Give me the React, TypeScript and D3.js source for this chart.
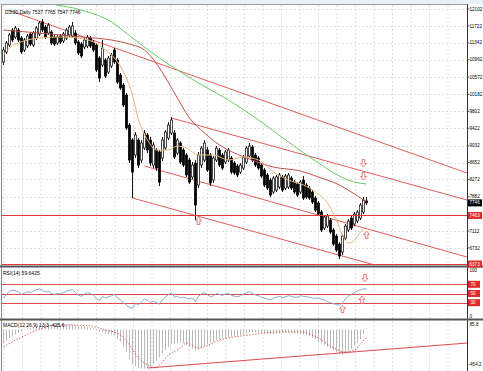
import React from 'react';
import * as d3 from 'd3';

const W = 483;
const H = 371;

const title = 'DJI30,Daily  7537 7765 7547 7746';

const opens = [10911,11136,11293,11630,11473,11630,11450,11181,11270,11540,
11293,11450,11540,11810,11697,11562,11585,11473,11338,11495,
11383,11450,11518,11495,11562,11360,11315,11248,11270,11450,
11360,11293,11001,10844,10956,10686,10821,11181,10956,10619,
10394,10169,9495,9158,8821,9158,8709,8978,9271,9158,
8596,8934,8889,8754,8978,9203,9316,9316,8866,9091,
8934,8821,8709,8327,8641,8147,8596,8709,8934,8821,
8259,8709,8934,8821,8664,8709,8754,8641,8574,8439,
8529,8664,8799,9001,8821,8754,8596,8484,8372,8259,
7990,8035,8102,8327,8080,8102,8304,8214,8170,7990,
8259,8147,8080,7990,7855,7743,7540,7181,7225,7360,
7136,7001,6821,6642,6956,7136,7405,7271,7338,7405,
7540,7790];

const closes = [11181,11338,11518,11405,11675,11405,11136,11405,11495,11315,
11562,11675,11787,11630,11473,11742,11338,11315,11473,11360,
11540,11630,11697,11720,11338,11113,11046,11405,11473,11270,
11181,10731,10551,11225,10596,11001,11068,10911,10461,10327,
9945,9428,8709,8439,9271,8596,9091,9316,8934,8641,
9046,8529,8214,9158,9338,9495,9608,8776,9158,8664,
8596,8372,8214,8596,7698,8821,8978,9091,8484,8192,
8754,8978,8596,8529,8889,8934,8439,8417,8372,8596,
8776,8978,9023,8709,8596,8529,8349,8147,8080,7922,
8304,8327,8372,8035,8349,8372,8080,7990,7922,8214,
7855,7877,7855,7765,7585,7495,7136,7428,7450,7091,
6821,6687,6552,7001,7225,7338,7181,7495,7540,7698,
7810,7746];

const highs = [11248,11383,11562,11675,11720,11675,11495,11450,11540,11585,
11607,11720,11832,11877,11742,11787,11630,11518,11518,11540,
11585,11675,11742,11810,11630,11405,11360,11450,11518,11495,
11405,11338,11046,11405,11001,11046,11113,11225,11001,10664,
10439,10214,9540,9203,9338,9203,9158,9383,9316,9226,
9113,8978,8934,9226,9383,9563,9675,9383,9203,9136,
8978,8866,8754,8664,8709,8889,9023,9158,9001,8866,
8799,9023,8978,8866,8934,8978,8799,8686,8619,8641,
8821,9023,9091,9046,8866,8799,8641,8529,8417,8304,
8349,8372,8417,8372,8394,8417,8349,8259,8214,8259,
8349,8192,8125,8035,7900,7788,7585,7473,7495,7405,
7181,7046,6866,7046,7271,7383,7450,7540,7585,7743,
7877,7880];

const lows = [10844,11091,11248,11360,11428,11360,11091,11136,11225,11270,
11248,11405,11495,11585,11428,11518,11293,11270,11293,11315,
11338,11405,11473,11450,11293,11068,11001,11203,11225,11225,
11136,10686,10461,10799,10551,10641,10776,10866,10417,10281,
9900,9383,8641,7855,8754,8529,8641,8934,8866,8574,
8529,8462,8125,8686,8934,9158,9271,8731,8821,8619,
8551,8327,8170,8282,7360,8080,8529,8664,8439,8125,
8192,8664,8551,8484,8619,8664,8394,8372,8327,8394,
8484,8619,8754,8664,8551,8484,8304,8102,8035,7877,
7945,7990,8057,7990,8035,8057,8035,7945,7877,7945,
7810,7832,7810,7720,7540,7450,7091,7136,7181,7046,
6777,6642,6484,6574,6911,7091,7136,7225,7293,7360,
7495,7700];

// moving averages: [bar index, price]
const maFast: [number, number][] = [[0,11068],[2,11225],[5,11338],[12,11450],[19,11473],[25,11450],[30,11360],[34,11181],[37,11001],[40,10686],[43,10169],[45,9608],[48,9158],[51,8934],[55,8934],[58,9023],[61,8978],[65,8821],[70,8821],[75,8709],[80,8776],[85,8709],[90,8439],[95,8259],[100,8147],[104,7990],[108,7743],[111,7360],[113,7024],[115,6844],[117,6911],[119,7091],[121,7225]];
const maMid: [number, number][] = [[0,11630],[12,11562],[26,11473],[36,11405],[42,11315],[47,11181],[52,10776],[57,10214],[62,9653],[67,9316],[72,9046],[77,8866],[82,8731],[90,8551],[99,8462],[105,8327],[112,8147],[117,7945],[121,7765]];
const maSlow: [number, number][] = [[10,12350],[15,12237],[26,12079],[36,11810],[43,11450],[52,11001],[65,10439],[75,10057],[85,9608],[95,9113],[105,8641],[112,8349],[117,8214],[121,8170]];

// trend lines [idx, price] -> [idx, price]
const trendLines: [number, number, number, number][] = [
  [1.5, 12079, 154.5, 8417],
  [56, 9653, 154.5, 7810],
  [47, 8574, 154.5, 6529],
  [43, 7855, 125, 6327],
];
const levels = [7463, 6373];
const lastPrice = 7746;

const priceTicks = [12102, 11722, 11342, 10962, 10572, 10182, 9802, 9422, 9032, 8652, 8272, 7882, 7112, 6732];

const mainArrows: [number, number, string][] = [[65, 7338, 'up'], [120, 8641, 'down'], [120, 8349, 'down'], [121, 7024, 'up']];

const rsi = [40,48,55,57,56,53,48,51,54,52,
55,58,60,57,53,55,50,48,50,49,
52,55,57,58,52,46,44,49,52,50,
46,38,35,44,40,43,45,48,40,36,
30,25,20,18,28,26,32,38,35,30,
33,30,27,36,42,48,52,42,44,40,
42,40,38,40,32,44,49,52,47,43,
45,50,48,46,49,50,46,44,43,45,
49,52,54,50,47,45,42,40,38,36,
40,42,44,41,43,45,44,42,42,45,
44,43,42,40,40,40,37,36,33,30,
28,26,25,30,38,45,48,52,56,58,
60,59.64];
const rsiLevels = [70, 50, 30];
const rsiArrows: [number, number, string][] = [[120.5, 84, 'down'], [119.5, 36, 'up'], [113, 16, 'up']];

const macd = [-160,-130,-100,-80,-60,-40,-20,-5,10,20,
30,40,50,55,60,58,55,52,50,50,
55,60,62,60,50,40,35,35,30,20,
10,-10,-30,-30,-50,-60,-60,-70,-100,-140,
-200,-260,-340,-400,-420,-440,-450,-450,-445,-430,
-400,-360,-320,-280,-240,-200,-170,-160,-160,-150,
-160,-180,-200,-220,-240,-230,-210,-190,-170,-150,
-140,-120,-110,-100,-95,-90,-80,-75,-70,-65,
-55,-45,-35,-30,-30,-35,-40,-45,-50,-55,
-55,-50,-45,-40,-40,-40,-40,-45,-45,-50,
-55,-65,-80,-95,-110,-130,-160,-180,-200,-220,
-240,-260,-280,-290,-280,-255,-220,-180,-150,-110,
-50,13.3];
const macdSignal: [number, number][] = [[0,-201],[4,-121],[9,-41],[14,28],[17,51],[24,51],[29,40],[34,-6],[39,-63],[42,-178],[45,-328],[48,-408],[50,-443],[52,-408],[55,-293],[59,-213],[61,-155],[65,-213],[72,-121],[82,-63],[92,-29],[99,-29],[101,-41],[105,-98],[110,-213],[114,-259],[117,-236],[119,-167],[121,-86]];
const macdTrend: [number, number, number, number] = [48, -443, 154.5, -156];

const FONT = 'Liberation Sans, Arial, sans-serif';
const RED = '#dc4a4a';
const FS = 4.6;

function Arrow({ cx, cy, dir }: { cx: number; cy: number; dir: string }) {
  const s = dir === 'up' ? 1 : -1;
  const pts = [[0, -4], [3, -0.5], [1.3, -0.5], [1.3, 3.5], [-1.3, 3.5], [-1.3, -0.5], [-3, -0.5]]
    .map(([a, b]) => `${cx + a},${cy + b * s}`).join(' ');
  return <polygon points={pts} fill="#fff" stroke="#e06060" strokeWidth={0.8} />;
}

export default function App() {
  const x = d3.scaleLinear().domain([-0.5, 154.5]).range([2, 467]);
  const yP = d3.scaleLinear().domain([6373, 12102]).range([264, 9]);
  const yR = d3.scaleLinear().domain([0, 100]).range([316.5, 270.5]);
  const yM = d3.scaleLinear().domain([-454.2, 85.8]).range([369, 322]);

  const mk = (ys: d3.ScaleLinear<number, number>) =>
    d3.line<[number, number]>().x(d => x(d[0])).y(d => ys(d[1])).curve(d3.curveMonotoneX);
  const lin = (ys: d3.ScaleLinear<number, number>) =>
    d3.line<[number, number]>().x(d => x(d[0])).y(d => ys(d[1]));
  const crisp = (v: number) => Math.round(v) + 0.5;

  const gridXs = d3.range(0, 25).map(k => 448 - 18.5 * k);
  const rsiPts: [number, number][] = rsi.map((v, i) => [i, v]);

  return (
    <svg width={W} height={H} style={{ position: 'absolute', left: 0, top: 0, background: '#fff' }} fontFamily={FONT}>
      <defs>
        <clipPath id="cm"><rect x={2} y={5} width={465} height={260} /></clipPath>
        <clipPath id="cr"><rect x={2} y={268} width={465} height={50} /></clipPath>
        <clipPath id="cd"><rect x={2} y={321} width={465} height={50} /></clipPath>
      </defs>
      <rect x={0} y={0} width={W} height={H} fill="#fff" />
      <rect x={0} y={0} width={W} height={4} fill="#eceff3" />
      {/* grid */}
      <g stroke="#d8d8d8" strokeWidth={0.8} strokeDasharray="2,2">
        {gridXs.filter(g => g > 2).map((g, i) => <line key={'gx' + i} x1={g} x2={g} y1={5} y2={371} />)}
        {priceTicks.map((t, i) => <line key={'gy' + i} x1={2} x2={467} y1={crisp(yP(t))} y2={crisp(yP(t))} />)}
      </g>

      {/* main panel */}
      <g clipPath="url(#cm)">
        {trendLines.map((t, i) => (
          <line key={'tl' + i} x1={x(t[0])} y1={yP(t[1])} x2={x(t[2])} y2={yP(t[3])} stroke={RED} strokeWidth={0.9} />
        ))}
        {opens.map((o, i) => {
          const c = closes[i];
          const cx = x(i);
          const up = c >= o;
          const top = yP(Math.max(o, c));
          const bot = yP(Math.min(o, c));
          return (
            <g key={'c' + i}>
              <line x1={cx} x2={cx} y1={yP(highs[i])} y2={yP(lows[i])} stroke="#000" strokeWidth={0.9} />
              <rect x={cx - 1.1} y={top} width={2.2} height={Math.max(0.8, bot - top)}
                fill={up ? '#fff' : '#000'} stroke="#000" strokeWidth={0.7} />
            </g>
          );
        })}
        {levels.map((l, i) => <line key={'lv' + i} x1={2} x2={467} y1={crisp(yP(l))} y2={crisp(yP(l))} stroke="#e03a3a" strokeWidth={1} />)}
        <path d={mk(yP)(maSlow) || ''} fill="none" stroke="#66cc66" strokeWidth={1} />
        <path d={mk(yP)(maMid) || ''} fill="none" stroke="#c0504d" strokeWidth={1} />
        <path d={mk(yP)(maFast) || ''} fill="none" stroke="#e8b878" strokeWidth={1} />
        {mainArrows.map((a, i) => <Arrow key={'ma' + i} cx={x(a[0])} cy={yP(a[1])} dir={a[2]} />)}
      </g>
      <text x={5} y={13.5} fontSize={5} fill="#000">{title}</text>

      {/* RSI panel */}
      <g clipPath="url(#cr)">
        {rsiLevels.map((l, i) => <line key={'rl' + i} x1={2} x2={467} y1={crisp(yR(l))} y2={crisp(yR(l))} stroke={RED} strokeWidth={1} />)}
        <path d={lin(yR)(rsiPts) || ''} fill="none" stroke="#86aacb" strokeWidth={1} />
        {rsiArrows.map((a, i) => <Arrow key={'ra' + i} cx={x(a[0])} cy={yR(a[1])} dir={a[2]} />)}
      </g>
      <text x={3} y={275} fontSize={5} fill="#000">RSI(14) 59.6425</text>

      {/* MACD panel */}
      <g clipPath="url(#cd)">
        {macd.map((v, i) => (
          <line key={'h' + i} x1={x(i)} x2={x(i)} y1={yM(0)} y2={yM(v)} stroke="#b8b8b8" strokeWidth={1} />
        ))}
        <path d={mk(yM)(macdSignal) || ''} fill="none" stroke={RED} strokeWidth={1} strokeDasharray="1.2,1.8" />
        <line x1={x(macdTrend[0])} y1={yM(macdTrend[1])} x2={x(macdTrend[2])} y2={yM(macdTrend[3])} stroke={RED} strokeWidth={1} />
      </g>
      <text x={3} y={327} fontSize={5} fill="#000">MACD(12,26,9) 13.3 -425.6</text>

      {/* frame */}
      <line x1={1.5} x2={1.5} y1={4} y2={371} stroke="#888" strokeWidth={1} />
      <line x1={2} x2={467} y1={4.5} y2={4.5} stroke="#999" strokeWidth={1} />
      <line x1={467.5} x2={467.5} y1={4} y2={371} stroke="#333" strokeWidth={1} />
      <line x1={0} x2={483} y1={266.5} y2={266.5} stroke="#555" strokeWidth={2} />
      <line x1={0} x2={483} y1={319.5} y2={319.5} stroke="#555" strokeWidth={2} />

      {/* price axis */}
      {priceTicks.map((t, i) => (
        <g key={'pt' + i}>
          <line x1={467} x2={469.5} y1={yP(t)} y2={yP(t)} stroke="#333" strokeWidth={0.8} />
          <text x={469.5} y={yP(t) + 1.6} fontSize={FS} fill="#000">{t}</text>
        </g>
      ))}
      {[{ v: lastPrice, c: '#000' }, { v: levels[0], c: '#e02b2b' }, { v: levels[1], c: '#e02b2b' }].map((b, i) => (
        <g key={'bx' + i}>
          <rect x={468} y={yP(b.v) - 3.5} width={14} height={7} fill={b.c} />
          <text x={469.5} y={yP(b.v) + 1.6} fontSize={FS} fill="#fff">{b.v}</text>
        </g>
      ))}
      {/* RSI axis */}
      <text x={469.5} y={yR(100) + 1.6} fontSize={FS} fill="#000">100</text>
      <text x={469.5} y={yR(0) + 1.6} fontSize={FS} fill="#000">0</text>
      {rsiLevels.map((l, i) => (
        <g key={'rb' + i}>
          <rect x={468} y={yR(l) - 3.5} width={12} height={7} fill="#e02b2b" />
          <text x={470.5} y={yR(l) + 1.6} fontSize={FS} fill="#fff">{l}</text>
        </g>
      ))}
      {/* MACD axis */}
      <text x={469.5} y={326} fontSize={FS} fill="#000">85.8</text>
      <text x={468.5} y={366} fontSize={FS} fill="#000">-454.2</text>
    </svg>
  );
}
